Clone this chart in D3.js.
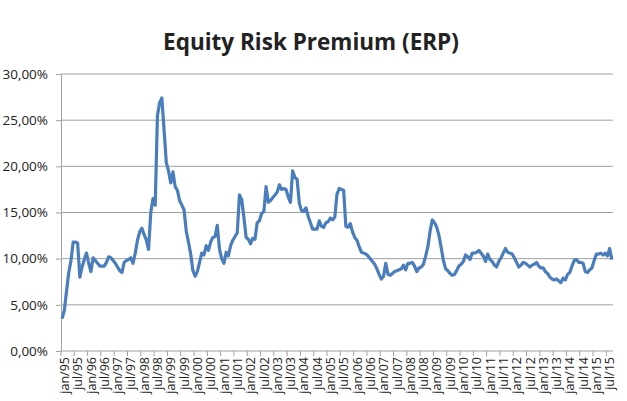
<!DOCTYPE html>
<html lang="pt">
<head>
<meta charset="UTF-8">
<title>Equity Risk Premium</title>
<script src="https://cdn.jsdelivr.net/npm/d3@7"></script>
<style>
    body { margin: 0; background: #fff; }
    text { font-family: "Open Sans", "Liberation Sans", sans-serif; fill: #222; }
</style>
</head>
<body>
<svg id="chart" width="627" height="401"></svg>
<script>
// monthly ERP (%), jan/95 .. sep/15, one row per year
let erp = [
    3.5, 4.4, 6.5, 8.5, 9.8, 11.8, 11.8, 11.7, 8.0, 9.1, 9.9, 10.6,
    9.5, 8.6, 10.1, 9.8, 9.5, 9.2, 9.2, 9.2, 9.6, 10.2, 10.1, 9.8,
    9.5, 9.1, 8.7, 8.5, 9.6, 9.8, 9.9, 10.1, 9.5, 10.6, 12.0, 12.9,
    13.3, 12.6, 12.0, 11.0, 15.0, 16.5, 15.8, 25.5, 26.9, 27.4, 23.9, 20.4,
    19.5, 18.2, 19.4, 17.8, 17.4, 16.3, 15.8, 15.3, 13.0, 11.8, 10.5, 8.7,
    8.1, 8.6, 9.6, 10.6, 10.4, 11.4, 10.9, 11.8, 12.3, 12.4, 13.6, 11.0,
    10.0, 9.5, 10.7, 10.3, 11.4, 12.0, 12.4, 12.8, 16.9, 16.4, 14.5, 12.3,
    12.1, 11.6, 12.2, 12.1, 13.9, 14.1, 14.9, 15.1, 17.8, 16.1, 16.3, 16.6,
    16.9, 17.2, 18.0, 17.5, 17.6, 17.5, 16.7, 16.1, 19.5, 18.8, 18.6, 16.0,
    15.2, 15.1, 15.5, 14.6, 13.9, 13.2, 13.2, 13.2, 14.1, 13.5, 13.4, 13.9,
    14.0, 14.4, 14.2, 14.5, 17.0, 17.6, 17.5, 17.4, 13.5, 13.4, 13.8, 12.9,
    12.3, 12.0, 11.3, 10.7, 10.6, 10.5, 10.3, 10.0, 9.7, 9.4, 8.9, 8.3,
    7.8, 8.1, 9.5, 8.3, 8.2, 8.4, 8.6, 8.7, 8.8, 8.9, 9.3, 8.8,
    9.5, 9.5, 9.6, 9.2, 8.6, 9.0, 9.1, 9.4, 10.3, 11.3, 13.0, 14.2,
    13.9, 13.4, 12.5, 11.2, 9.8, 8.9, 8.7, 8.4, 8.2, 8.3, 8.7, 9.2,
    9.4, 9.7, 10.4, 10.2, 9.9, 10.6, 10.6, 10.7, 10.9, 10.6, 10.3, 9.7,
    10.5, 9.9, 9.7, 9.3, 9.1, 9.7, 10.1, 10.6, 11.1, 10.7, 10.6, 10.5,
    10.1, 9.6, 9.1, 9.3, 9.6, 9.5, 9.3, 9.1, 9.3, 9.4, 9.6, 9.2,
    9.0, 9.0, 8.6, 8.4, 8.0, 7.8, 7.7, 7.8, 7.6, 7.4, 7.9, 7.7,
    8.3, 8.5, 9.2, 9.8, 9.9, 9.6, 9.6, 9.5, 8.6, 8.5, 8.8, 9.0,
    9.8, 10.5, 10.5, 10.6, 10.4, 10.6, 10.3, 11.1, 9.9
]

let tickLabels = [
    "jan/95","jul/95","jan/96","jul/96","jan/97","jul/97","jan/98","jul/98",
    "jan/99","jul/99","jan/00","jul/00","jan/01","jul/01","jan/02","jul/02",
    "jan/03","jul/03","jan/04","jul/04","jan/05","jul/05","jan/06","jul/06",
    "jan/07","jul/07","jan/08","jul/08","jan/09","jul/09","jan/10","jul/10",
    "jan/11","jul/11","jan/12","jul/12","jan/13","jul/13","jan/14","jul/14",
    "jan/15","jul/15"
]

let yTicks = [0, 5, 10, 15, 20, 25, 30]

let svg = d3.select("#chart")
let mLeft = 61, mRight = 613, mTop = 74, mBottom = 351

let x = d3.scaleLinear().domain([0, erp.length]).range([mLeft, mRight])
let y = d3.scaleLinear().domain([0, 30]).range([mBottom, mTop])

// title
svg.append("text")
    .attr("x", 311).attr("y", 50)
    .attr("text-anchor", "middle")
    .style("font-size", "22.5px")
    .style("font-weight", "bold")
    .text("Equity Risk Premium (ERP)")

// gridlines
svg.append("g").selectAll("line")
    .data(yTicks.filter(d => d > 0))
    .join("line")
    .attr("x1", mLeft).attr("x2", mRight)
    .attr("y1", d => y(d)).attr("y2", d => y(d))
    .attr("stroke", "#a0a0a0")
    .attr("stroke-width", 1)

// y axis
let yAxis = svg.append("g")
    .attr("transform", "translate(" + mLeft + ",0)")
    .call(d3.axisLeft(y).tickValues(yTicks).tickSize(5)
        .tickFormat(d => d.toFixed(2).replace(".", ",") + "%"))
yAxis.select(".domain").attr("stroke", "#a0a0a0")
yAxis.selectAll(".tick line").attr("stroke", "#a0a0a0")
yAxis.selectAll(".tick text")
    .attr("x", -13)
    .style("font-size", "13.5px")
    .attr("fill", "#222")

// x axis line and ticks
let xg = svg.append("g")
xg.append("line")
    .attr("x1", mLeft).attr("x2", mRight)
    .attr("y1", mBottom).attr("y2", mBottom)
    .attr("stroke", "#a0a0a0")
xg.selectAll(".xt")
    .data(tickLabels)
    .join("line")
    .attr("class", "xt")
    .attr("x1", (d, i) => x(i * 6)).attr("x2", (d, i) => x(i * 6))
    .attr("y1", mBottom).attr("y2", mBottom + 5)
    .attr("stroke", "#a0a0a0")
xg.selectAll(".xl")
    .data(tickLabels)
    .join("text")
    .attr("class", "xl")
    .attr("transform", (d, i) => "translate(" + (x(i * 6 + 0.5) + 2.5) + "," + (mBottom + 6) + ") rotate(-90)")
    .attr("text-anchor", "end")
    .attr("dy", "0.35em")
    .style("font-size", "12.5px")
    .text(d => d)

// the line
let line = d3.line()
    .x((d, i) => x(i + 0.5))
    .y(d => y(d))

svg.append("path")
    .datum(erp)
    .attr("d", line)
    .attr("fill", "none")
    .attr("stroke", "#4a7dbb")
    .attr("stroke-width", 3.2)
    .attr("stroke-linejoin", "round")
</script>
</body>
</html>
